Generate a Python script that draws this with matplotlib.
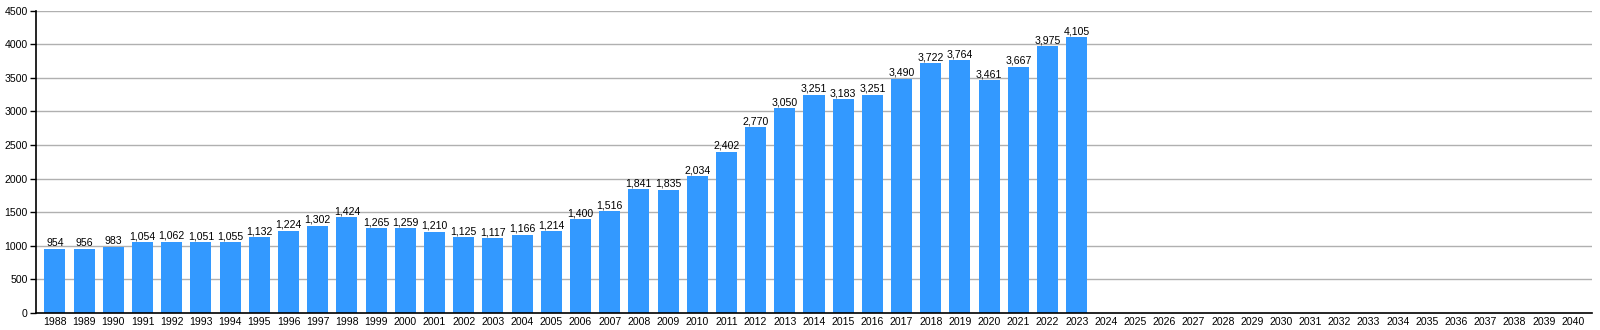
import matplotlib
matplotlib.use("Agg")
import matplotlib.pyplot as plt
from matplotlib.ticker import FixedLocator

plt.rcParams['font.family'] = ['Liberation Sans', 'DejaVu Sans']

years = [str(y) for y in range(1988, 2041)]
values = [954, 956, 983, 1054, 1062, 1051, 1055, 1132, 1224, 1302, 1424, 1265,
          1259, 1210, 1125, 1117, 1166, 1214, 1400, 1516, 1841, 1835, 2034, 2402,
          2770, 3050, 3251, 3183, 3251, 3490, 3722, 3764, 3461, 3667, 3975, 4105]
y_ticks = [0, 500, 1000, 1500, 2000, 2500, 3000, 3500, 4000, 4500]

fig = plt.figure(figsize=(16, 3.3), dpi=100)
ax = fig.add_axes([0.0225, 0.0515, 0.9725, 0.9161])

x = list(range(len(years)))
ax.bar(x[:len(values)], values, width=0.72, color='#3399ff', zorder=3)
for xi, v in zip(x, values):
    ax.text(xi, v + 12, f"{v:,}", ha='center', va='bottom', fontsize=7.6,
            color='black', zorder=4)

ax.set_xlim(-0.65, len(years) - 0.35)
ax.set_ylim(0, 4500)
ax.yaxis.set_major_locator(FixedLocator(y_ticks))
ax.set_yticklabels([str(t) for t in y_ticks])
ax.set_xticks(x)
ax.set_xticklabels(years)
ax.tick_params(axis='x', length=0, labelsize=7.6, pad=3)
ax.tick_params(axis='y', length=4, width=1, labelsize=7.6, pad=2, direction='out')

for t in y_ticks[1:]:
    ax.axhline(t, color='#b0b0b0', linewidth=1, zorder=1)

for s in ['top', 'right']:
    ax.spines[s].set_visible(False)
ax.spines['left'].set_linewidth(1.2)
ax.spines['bottom'].set_linewidth(1.2)
ax.spines['left'].set_zorder(5)
ax.spines['bottom'].set_zorder(5)

fig.savefig('out.png', dpi=100, facecolor='white')
